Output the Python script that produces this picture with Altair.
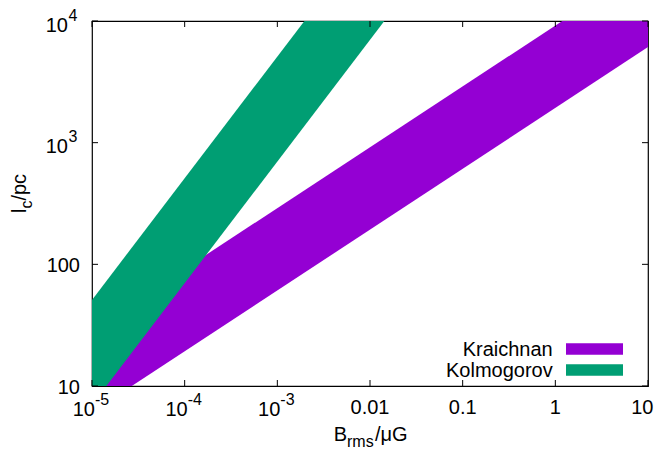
import altair as alt
import pandas as pd

# ---- data ----
B = [1e-5, 10.0]
kraichnan_low = [6.1, 6100.0]
kraichnan_high = [29.0, 29000.0]
kolmogorov_low = [7.0, 7.0e6]
kolmogorov_high = [51.0, 5.1e7]

series = ["Kraichnan", "Kolmogorov"]
colors = ["#9400D3", "#009E73"]

x_ticks = [1e-5, 1e-4, 1e-3, 0.01, 0.1, 1.0, 10.0]
x_exp_ticks = [1e-5, 1e-4, 1e-3]
x_exp_labels = ["-5", "-4", "-3"]
x_plain_ticks = [0.01, 0.1, 1.0]
x_plain_labels = ["0.01", "0.1", "1"]
x_last_tick = [10.0]
x_last_label = ["10"]

y_ticks = [10.0, 100.0, 1e3, 1e4]
y_plain_ticks = [10.0, 100.0]
y_plain_labels = ["10", "100"]
y_exp_ticks = [1e3, 1e4]
y_exp_labels = ["3", "4"]

W, H = 556, 365
FONT = "Liberation Sans"

xs = alt.Scale(type="log", domain=[1e-5, 10], nice=False)
ys = alt.Scale(type="log", domain=[10, 1e4], nice=False)

band_k = pd.DataFrame({"B": B, "lo": kraichnan_low, "hi": kraichnan_high})
band_g = pd.DataFrame({"B": B, "lo": kolmogorov_low, "hi": kolmogorov_high})

area_k = alt.Chart(band_k).mark_area(color=colors[0], clip=True, opacity=1).encode(
    x=alt.X("B:Q", scale=xs, axis=None),
    y=alt.Y("lo:Q", scale=ys, axis=None),
    y2="hi:Q",
)
area_g = alt.Chart(band_g).mark_area(color=colors[1], clip=True, opacity=1).encode(
    x=alt.X("B:Q", scale=xs, axis=None),
    y=alt.Y("lo:Q", scale=ys, axis=None),
    y2="hi:Q",
)

xt = pd.DataFrame({"v": x_ticks})
yt = pd.DataFrame({"v": y_ticks})
TL = 6
tick_style = dict(color="black", strokeWidth=1)
xtick_b = alt.Chart(xt).mark_rule(**tick_style).encode(
    x=alt.X("v:Q", scale=xs, axis=None), y=alt.value(H), y2=alt.value(H - TL))
xtick_t = alt.Chart(xt).mark_rule(**tick_style).encode(
    x=alt.X("v:Q", scale=xs, axis=None), y=alt.value(0), y2=alt.value(TL))
ytick_l = alt.Chart(yt).mark_rule(**tick_style).encode(
    y=alt.Y("v:Q", scale=ys, axis=None), x=alt.value(0), x2=alt.value(TL))
ytick_r = alt.Chart(yt).mark_rule(**tick_style).encode(
    y=alt.Y("v:Q", scale=ys, axis=None), x=alt.value(W), x2=alt.value(W - TL))

FS = 20
FSS = 16
xe = pd.DataFrame({"v": x_exp_ticks, "e": x_exp_labels})
xp = pd.DataFrame({"v": x_plain_ticks, "t": x_plain_labels})
xz = pd.DataFrame({"v": x_last_tick, "t": x_last_label})
ye = pd.DataFrame({"v": y_exp_ticks, "e": y_exp_labels})
yp = pd.DataFrame({"v": y_plain_ticks, "t": y_plain_labels})

xl_base = alt.Chart(xe).mark_text(font=FONT, fontSize=FS, align="right", baseline="alphabetic", dx=3).encode(
    x=alt.X("v:Q", scale=xs, axis=None), y=alt.value(395), text=alt.value("10"))
xl_exp = alt.Chart(xe).mark_text(font=FONT, fontSize=FSS, align="left", baseline="alphabetic", dx=3).encode(
    x=alt.X("v:Q", scale=xs, axis=None), y=alt.value(384), text="e:N")
xl_plain = alt.Chart(xp).mark_text(font=FONT, fontSize=FS, align="center", baseline="alphabetic").encode(
    x=alt.X("v:Q", scale=xs, axis=None), y=alt.value(393), text="t:N")
xl_last = alt.Chart(xz).mark_text(font=FONT, fontSize=FS, align="right", baseline="alphabetic", dx=5.5).encode(
    x=alt.X("v:Q", scale=xs, axis=None), y=alt.value(393), text="t:N")

yl_plain = alt.Chart(yp).mark_text(font=FONT, fontSize=FS, align="right", baseline="alphabetic", dy=7.5).encode(
    y=alt.Y("v:Q", scale=ys, axis=None), x=alt.value(-12), text="t:N")
yl_base = alt.Chart(ye).mark_text(font=FONT, fontSize=FS, align="right", baseline="alphabetic", dy=10.5).encode(
    y=alt.Y("v:Q", scale=ys, axis=None), x=alt.value(-24), text=alt.value("10"))
yl_exp = alt.Chart(ye).mark_text(font=FONT, fontSize=FSS, align="left", baseline="alphabetic", dy=-0.5).encode(
    y=alt.Y("v:Q", scale=ys, axis=None), x=alt.value(-23.5), text="e:N")

one = pd.DataFrame({"a": [0]})

def txt(s, x, y, size=FS, align="left", angle=0):
    kw = dict(font=FONT, fontSize=size, align=align, baseline="alphabetic", color="black")
    if angle:
        kw["angle"] = angle
    return alt.Chart(one).mark_text(**kw).encode(
        x=alt.value(x), y=alt.value(y), text=alt.value(s))

# axis titles
xtitle = [
    txt("B", 255, 420, align="right"),
    txt("rms", 255, 426, size=FSS),
    txt("/\u03bcG", 283, 420),
]
ytitle = [
    txt("l", -66, 192, angle=270),
    txt("c", -60, 187.6, size=FSS, angle=270),
    txt("/pc", -66, 179.6, angle=270),
]

# legend
leg = []
leg_y = [335, 356]
sw_y = [(322.3, 333.7), (343.3, 354.7)]
for i, name in enumerate(series):
    leg.append(txt(name, 460.7, leg_y[i], align="right"))
    leg.append(alt.Chart(one).mark_rect(color=colors[i]).encode(
        x=alt.value(474), x2=alt.value(531),
        y=alt.value(sw_y[i][0]), y2=alt.value(sw_y[i][1])))

chart = alt.layer(
    area_k, area_g,
    xtick_b, xtick_t, ytick_l, ytick_r,
    xl_base, xl_exp, xl_plain, xl_last, yl_plain, yl_base, yl_exp,
    *xtitle, *ytitle, *leg,
).properties(
    width=W, height=H,
    autosize=alt.AutoSizeParams(type="none"),
    padding={"left": 84, "top": 13, "right": 6, "bottom": 63},
).configure_view(stroke="black", strokeWidth=1.2)

chart.save("out.html", embed_options={"renderer": "svg", "actions": False})
